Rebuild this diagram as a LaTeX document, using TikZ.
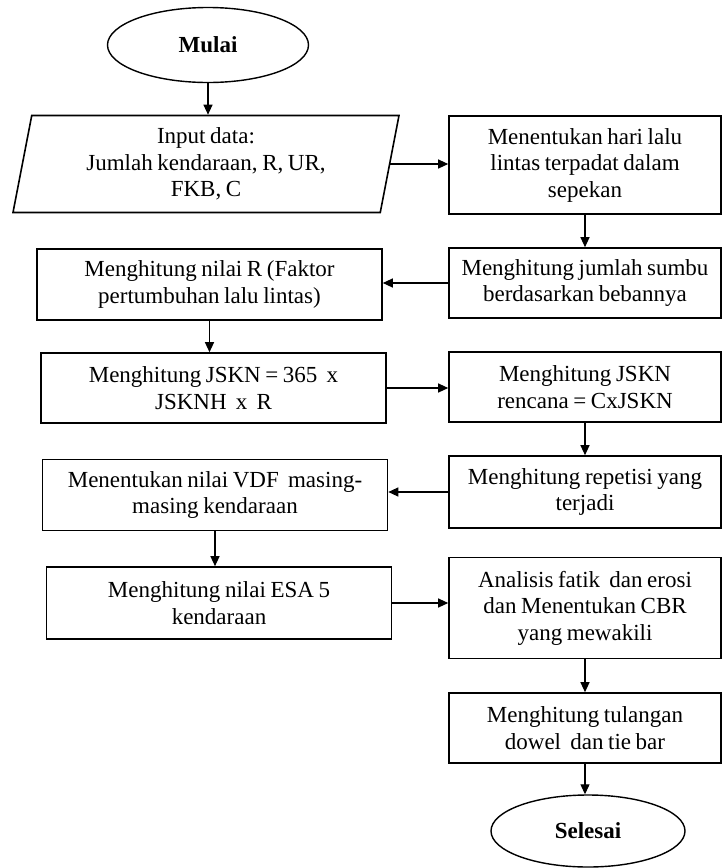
\documentclass[tikz,border=0pt]{standalone}
\usepackage{fontspec}
\setmainfont{Liberation Serif}[WordSpace=0.8]
\usetikzlibrary{shapes.geometric}
\usetikzlibrary{arrows.meta}

\begin{document}
\begin{tikzpicture}[x=1pt, y=-1pt,
    every node/.style={font=\fontsize{23}{26.5}\selectfont, align=center},
    kotak/.style={draw, line width=1.6pt, rectangle, inner sep=0pt},
    kiri/.style={kotak, minimum width=345pt, minimum height=71pt},
    kanan/.style={kotak, minimum width=272pt},
    oval/.style={draw, line width=1.4pt, ellipse, inner sep=0pt, font=\fontsize{23}{26.5}\selectfont\bfseries},
    panah/.style={line width=1.2pt, -{Triangle[length=10pt,width=9pt]}}]
    \useasboundingbox (0,0) rectangle (722,868);
    % mulai dan input
    \node[oval, minimum width=201pt, minimum height=75pt] (mulai) at (208,45) {Mulai};
    \node[draw, line width=1.6pt, trapezium, trapezium left angle=75.5, %
        trapezium right angle=104.5, trapezium stretches body, %
        minimum width=386pt, minimum height=97pt, inner sep=0pt] (input) at (206,164) %
        {Input data:\\ Jumlah kendaraan, R, UR,\\ FKB, C};
    % kolom kanan
    \node[kanan, minimum height=98pt] (hari) at (585,165) %
        {Menentukan hari lalu\\ lintas terpadat dalam\\ sepekan};
    \node[kanan, minimum height=70pt] (sumbu) at (585,283) %
        {Menghitung jumlah sumbu\\ berdasarkan bebannya};
    \node[kanan, minimum height=70pt] (rencana) at (585,387) %
        {Menghitung JSKN\\ rencana = CxJSKN};
    \node[kanan, minimum height=72pt] (repetisi) at (585,492) %
        {Menghitung repetisi yang\\ terjadi};
    \node[kanan, minimum height=101pt] (analisis) at (585,608) %
        {Analisis fatik \ dan erosi\\ dan Menentukan CBR\\ yang mewakili};
    \node[kanan, minimum height=70pt] (tulangan) at (585,728) %
        {Menghitung tulangan\\ dowel \ dan tie bar};
    \node[oval, minimum width=194pt, minimum height=72pt] (selesai) at (588,831) {Selesai};
    % kolom kiri
    \node[kiri] (nilaiR) at (209.5,284.5) {Menghitung nilai R (Faktor\\ pertumbuhan lalu lintas)};
    \node[kiri, minimum height=70pt] (jskn) at (213.5,388) {Menghitung JSKN = 365 \ x\\ JSKNH \ x \ R};
    \node[kiri] (vdf) at (215,495) {Menentukan nilai VDF \ masing-\\ masing kendaraan};
    \node[kiri, minimum height=72pt] (esa) at (219,603) {Menghitung nilai ESA 5\\ kendaraan};
    % panah
    \draw[panah] (mulai.south) -- (mulai.south |- input.north);
    \draw[panah] (input.east) -- (input.east -| hari.west);
    \draw[panah] (hari.south) -- (sumbu.north);
    \draw[panah] (sumbu.west) -- (sumbu.west -| nilaiR.east);
    \draw[panah] (nilaiR.south) -- (nilaiR.south |- jskn.north);
    \draw[panah] (jskn.east) -- (jskn.east -| rencana.west);
    \draw[panah] (rencana.south) -- (repetisi.north);
    \draw[panah] (repetisi.west) -- (repetisi.west -| vdf.east);
    \draw[panah] (vdf.south) -- (vdf.south |- esa.north);
    \draw[panah] (esa.east) -- (esa.east -| analisis.west);
    \draw[panah] (analisis.south) -- (tulangan.north);
    \draw[panah] (tulangan.south) -- (tulangan.south |- selesai.north);
\end{tikzpicture}
\end{document}
